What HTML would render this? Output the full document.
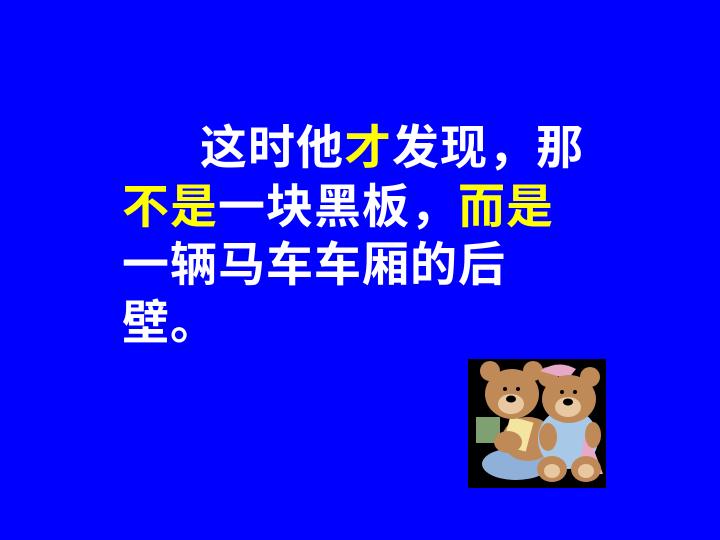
<!DOCTYPE html>
<html><head><meta charset="utf-8">
<style>
html,body{margin:0;padding:0}
body{width:720px;height:540px;background:#0000ff;position:relative;overflow:hidden;
font-family:"Liberation Sans","Noto Sans CJK SC","WenQuanYi Zen Hei",sans-serif}
.line{position:absolute;left:122px;font-size:47px;font-weight:bold;color:#fff;line-height:58px;white-space:nowrap;letter-spacing:1px}
.y{color:#ffff00}
</style></head>
<body>
<div class="line" style="top:119px;left:200px">这时他<span class="y">才</span>发现，那</div>
<div class="line" style="top:178px"><span class="y">不是</span>一块黑板，<span class="y">而是</span></div>
<div class="line" style="top:236px">一辆马车车厢的后</div>
<div class="line" style="top:294px">壁。</div>
<svg style="position:absolute;left:468px;top:359px" width="138" height="129" viewBox="0 0 138 129">
<rect width="138" height="129" fill="#000"/>
<!-- left bear -->
<ellipse cx="48" cy="105" rx="34" ry="16" fill="#8fb0d8"/>
<ellipse cx="60" cy="80" rx="26" ry="22" fill="#c08a58"/>
<rect x="8" y="58" width="24" height="26" fill="#7fa070"/>
<rect x="38" y="60" width="24" height="30" fill="#f3e4a0" transform="rotate(15 50 75)"/>
<circle cx="22" cy="12" r="10" fill="#c08a58"/>
<circle cx="65" cy="12" r="10" fill="#c08a58"/>
<ellipse cx="44" cy="35" rx="27" ry="25" fill="#c08a58"/>
<ellipse cx="43" cy="45" rx="13" ry="10" fill="#e8c8a0"/>
<ellipse cx="43" cy="40" rx="5" ry="3.5" fill="#000"/>
<circle cx="37" cy="30" r="2" fill="#000"/><circle cx="50" cy="30" r="2" fill="#000"/>
<ellipse cx="40" cy="83" rx="14" ry="11" fill="#c08a58"/>
<!-- right bear -->
<ellipse cx="100" cy="80" rx="30" ry="30" fill="#a8c8e8"/>
<path d="M118 70 L135 115 L110 115 Z" fill="#e8a8c8"/>
<circle cx="80" cy="18" r="10" fill="#c08a58"/>
<circle cx="122" cy="18" r="10" fill="#c08a58"/>
<path d="M72 12 Q90 0 108 10 L100 20 Z" fill="#e8a8c8"/>
<ellipse cx="101" cy="40" rx="27" ry="24" fill="#c08a58"/>
<ellipse cx="100" cy="48" rx="13" ry="10" fill="#e8c8a0"/>
<ellipse cx="100" cy="43" rx="5" ry="3.5" fill="#000"/>
<circle cx="94" cy="33" r="2" fill="#000"/><circle cx="107" cy="33" r="2" fill="#000"/>
<ellipse cx="80" cy="78" rx="9" ry="14" fill="#c08a58"/>
<ellipse cx="125" cy="76" rx="8" ry="13" fill="#c08a58"/>
<ellipse cx="84" cy="110" rx="15" ry="13" fill="#c08a58"/>
<ellipse cx="118" cy="110" rx="15" ry="13" fill="#c08a58"/>
<ellipse cx="84" cy="112" rx="8" ry="7" fill="#e8c8a0"/>
<ellipse cx="118" cy="112" rx="8" ry="7" fill="#e8c8a0"/>
</svg>
</body></html>
